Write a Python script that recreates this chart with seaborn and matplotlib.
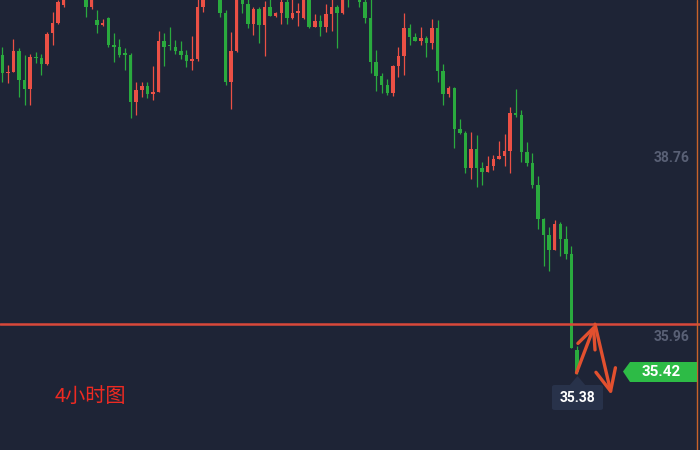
import numpy as np
import pandas as pd
import matplotlib
matplotlib.use("Agg")
import matplotlib.pyplot as plt
from matplotlib.patches import Polygon, FancyBboxPatch
import seaborn as sns

# ---- data (4-hour candles) ----
opens = [40.37, 40.09, 40.11, 40.43, 39.98, 39.84, 40.34, 40.32, 40.23, 40.72,
         40.87, 41.15, 41.70, 41.54, 41.62, 41.31, 41.12, 40.92, 40.84, 40.95,
         40.53, 40.50, 40.40, 40.37, 39.64, 39.82, 39.89, 39.76, 39.79, 40.59,
         40.53, 40.50, 40.43, 40.37, 40.28, 40.31, 41.12, 41.70, 41.47, 41.31,
         41.03, 39.95, 40.43, 41.36, 41.17, 40.86, 41.09, 40.84, 41.12, 40.98,
         41.03, 41.20, 40.95, 41.03, 40.95, 41.31, 40.81, 40.90, 40.81, 41.01,
         41.12, 41.03, 41.39, 41.42, 41.31, 41.20, 40.95, 40.26, 40.04, 39.90,
         39.78, 40.20, 40.36, 40.79, 40.65, 40.59, 40.64, 40.56, 40.79, 40.12,
         39.76, 39.85, 39.21, 39.15, 38.60, 38.90, 38.60, 38.54, 38.63, 38.74,
         38.79, 38.87, 39.46, 39.43, 38.85, 38.68, 38.34, 37.81, 37.56, 37.32,
         37.73, 37.49, 37.26, 35.76]
highs = [40.50, 40.21, 40.62, 40.48, 40.37, 40.39, 40.42, 40.39, 40.73, 41.04,
         41.23, 41.36, 41.86, 41.94, 41.83, 41.39, 41.47, 41.08, 40.93, 40.97,
         40.72, 40.62, 40.48, 40.40, 39.95, 39.95, 39.95, 40.20, 40.75, 40.72,
         40.81, 40.61, 40.59, 40.45, 40.67, 41.28, 41.42, 41.86, 41.78, 41.39,
         41.08, 40.73, 41.47, 41.42, 41.28, 41.12, 41.12, 41.22, 41.26, 41.04,
         41.28, 41.28, 41.26, 41.18, 41.36, 41.39, 41.01, 41.00, 41.17, 41.28,
         41.15, 41.42, 41.47, 41.78, 41.39, 41.28, 41.28, 40.45, 40.09, 40.00,
         40.21, 40.50, 41.03, 40.86, 40.72, 40.81, 40.67, 40.93, 40.92, 40.23,
         39.89, 39.87, 39.37, 39.18, 39.17, 39.12, 38.70, 38.79, 38.81, 39.03,
         39.14, 39.56, 39.84, 39.51, 39.01, 38.84, 38.48, 37.82, 37.68, 37.79,
         37.76, 37.70, 37.38, 35.82]
lows = [39.95, 39.93, 40.10, 39.71, 39.59, 39.59, 40.25, 40.06, 40.21, 40.53,
        40.86, 41.12, 41.36, 41.42, 41.29, 40.97, 41.09, 40.72, 40.82, 40.50,
        40.26, 40.34, 40.14, 39.39, 39.43, 39.71, 39.70, 39.67, 39.79, 40.20,
        40.45, 40.39, 40.31, 40.18, 40.14, 40.28, 41.04, 41.31, 41.36, 40.97,
        39.90, 39.53, 40.42, 41.03, 40.79, 40.68, 40.56, 40.36, 40.98, 40.97,
        40.86, 40.86, 40.93, 40.82, 40.93, 40.79, 40.81, 40.67, 40.73, 40.75,
        40.48, 41.01, 41.12, 41.33, 41.12, 40.87, 40.09, 39.81, 39.78, 39.75,
        39.73, 40.03, 40.06, 40.53, 40.59, 40.53, 40.34, 40.47, 39.95, 39.59,
        39.71, 38.92, 39.14, 38.53, 38.43, 38.31, 38.34, 38.54, 38.57, 38.74,
        38.63, 38.53, 39.40, 38.70, 38.63, 38.29, 37.65, 37.07, 36.99, 37.32,
        37.23, 37.18, 35.79, 35.38]
closes = [40.09, 40.11, 40.43, 39.98, 39.84, 40.34, 40.32, 40.23, 40.70, 40.87,
          41.20, 41.31, 41.47, 41.78, 41.39, 41.12, 41.39, 40.84, 40.87, 40.53,
          40.50, 40.37, 40.37, 39.64, 39.82, 39.89, 39.76, 39.79, 40.59, 40.50,
          40.51, 40.43, 40.37, 40.28, 40.31, 41.12, 41.36, 41.42, 41.67, 41.03,
          39.95, 40.43, 41.39, 41.17, 40.86, 41.09, 40.84, 41.12, 40.98, 41.03,
          41.20, 40.95, 41.03, 41.06, 41.31, 40.81, 40.90, 40.81, 41.01, 41.12,
          41.03, 41.36, 41.26, 41.62, 41.20, 40.95, 40.26, 40.04, 39.90, 39.78,
          40.20, 40.36, 40.79, 40.65, 40.59, 40.64, 40.56, 40.79, 40.12, 39.76,
          39.85, 39.21, 39.15, 38.60, 38.90, 38.60, 38.54, 38.63, 38.74, 38.79,
          38.87, 39.46, 39.43, 38.85, 38.68, 38.34, 37.81, 37.56, 37.32, 37.73,
          37.49, 37.26, 35.79, 35.42]

level_line = 36.16
axis_labels = ["38.76", "35.96"]
axis_label_values = [38.76, 35.96]
last_price_label = "35.42"
low_label = "35.38"
title_text = "4小时图"

# ---- style ----
BG = "#1e2436"
UP = "#eb5045"      # red = rising
DOWN = "#2aaa3e"    # green = falling
sns.set_theme(style="dark", rc={"axes.facecolor": BG, "figure.facecolor": BG})
plt.rcParams["font.family"] = ["Noto Sans CJK SC", "DejaVu Sans"]

df = pd.DataFrame({"open": opens, "high": highs, "low": lows, "close": closes})
df["idx"] = np.arange(len(df))
df["color"] = np.where(df["close"] > df["open"], UP, DOWN)
df["bottom"] = df[["open", "close"]].min(axis=1)
df["height"] = (df["close"] - df["open"]).abs().clip(lower=0.018)

W, H = 700, 450
fig = plt.figure(figsize=(7, 4.5), dpi=100)
ax = fig.add_axes([0, 0, 1, 1])
ax.set_facecolor(BG)

spacing = 5.58
x0 = 2.3
ax.set_xlim(-x0 / spacing, (W - x0) / spacing)
ymax, ymin = 41.2314, 34.1926
ax.set_ylim(ymin, ymax)

# wicks
ax.vlines(df["idx"], df["low"], df["high"], colors=df["color"], linewidth=0.9, zorder=2)
# bodies
ax.bar(df["idx"], df["height"], bottom=df["bottom"], width=0.62,
       color=df["color"], linewidth=0, zorder=3)

# horizontal level line
ax.axhline(level_line, color="#d9483a", linewidth=1.8, zorder=4)
# right edge vertical line
ax.axvline((697.3 - x0) / spacing, color="#c8622a", linewidth=1.0, zorder=4)

def px(xp, yp):
    return (xp / W, 1 - yp / H)

# price axis labels
for lab, val in zip(axis_labels, axis_label_values):
    ax.text(689 / W, val, lab, transform=ax.get_yaxis_transform(), ha="right",
            va="center", color="#596075", fontsize=10, fontweight="bold",
            family=["Roboto", "DejaVu Sans"], zorder=6)

# current price tag (green arrow-shaped)
tag = Polygon([px(623, 371.5), px(630, 362), px(697, 362), px(697, 382), px(630, 382)],
              closed=True, transform=ax.transAxes, facecolor="#2dbb46",
              edgecolor="none", zorder=6)
ax.add_patch(tag)
ax.text(*px(661, 372), last_price_label, transform=ax.transAxes, ha="center",
        va="center", color="white", fontsize=11, fontweight="bold",
        family=["Roboto", "DejaVu Sans"], zorder=7)

# low label box with pointer
box = FancyBboxPatch(px(552, 410), 51 / W, 25 / H, boxstyle="round,pad=0,rounding_size=0.004",
                     transform=ax.transAxes, facecolor="#28324a", edgecolor="none", zorder=6)
ax.add_patch(box)
ptr = Polygon([px(569, 386), px(577.5, 376), px(586, 386)], closed=True,
              transform=ax.transAxes, facecolor="#28324a", edgecolor="none", zorder=6)
ax.add_patch(ptr)
ax.text(*px(577.5, 398), low_label, transform=ax.transAxes, ha="center",
        va="center", color="white", fontsize=10, fontweight="bold",
        family=["Roboto", "DejaVu Sans"], zorder=7)

# hand-drawn style arrows
ARROW = "#e2502f"
last = df.iloc[-1]
peak = ((595 - x0) / spacing, level_line)
dest = ((611.5 - x0) / spacing, 41.2314 - 395 * (ymax - ymin) / H)
ax.annotate("", xy=peak, xytext=(last["idx"] - 0.1, last["low"] + 0.02),
            arrowprops=dict(arrowstyle="->,head_length=1.2,head_width=0.55",
                            color=ARROW, lw=2.4, shrinkA=0, shrinkB=0), zorder=8)
ax.annotate("", xy=dest, xytext=peak,
            arrowprops=dict(arrowstyle="->,head_length=1.3,head_width=0.6",
                            color=ARROW, lw=2.4, shrinkA=0, shrinkB=0), zorder=8)

# title text
ax.text(*px(55, 396), title_text, transform=ax.transAxes, ha="left", va="center",
        color="#ee2a22", fontsize=14.5, zorder=7)

ax.set_xticks([])
ax.set_yticks([])
for s in ax.spines.values():
    s.set_visible(False)
ax.grid(False)

fig.savefig("out.png", dpi=100, facecolor=BG)
